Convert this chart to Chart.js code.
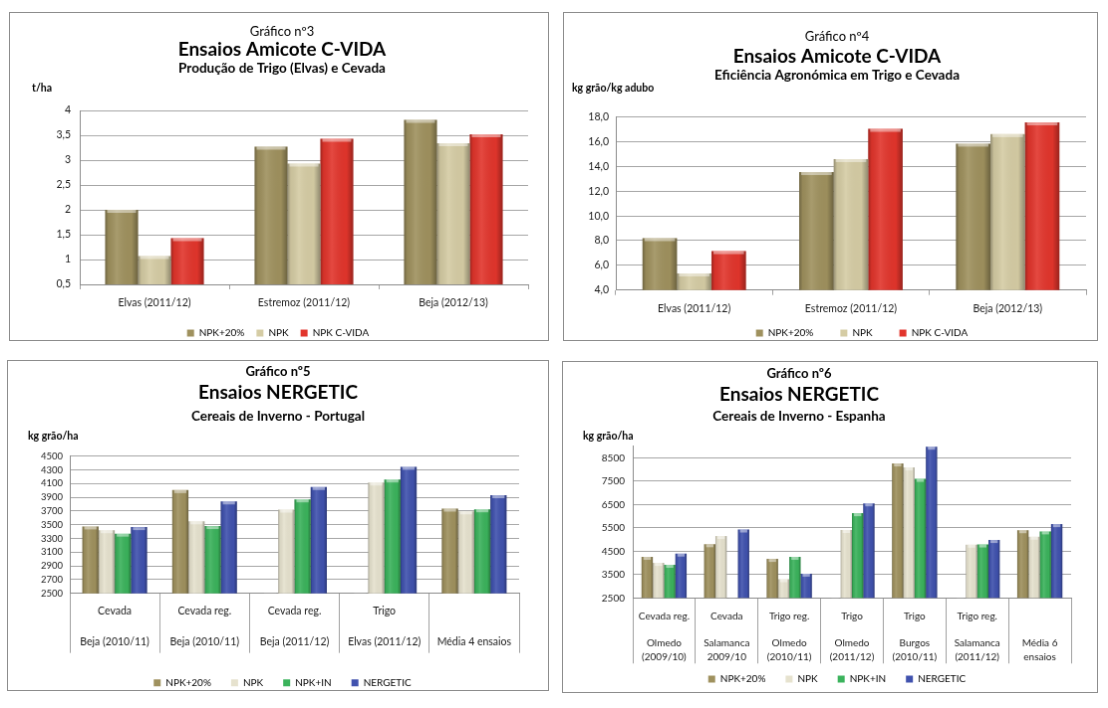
<!DOCTYPE html>
<html>
<head>
<meta charset="utf-8">
<script src="https://cdn.jsdelivr.net/npm/chart.js@4.4.0/dist/chart.umd.min.js"></script>
<style>
  body { margin: 0; background: #fff; width: 1108px; height: 708px; position: relative; overflow: hidden; }
  canvas { position: absolute; border: 1px solid #8c8c8c; background: #fff; }
</style>
</head>
<body>
<canvas id="c3" width="540" height="329" style="left:9px;top:12px"></canvas>
<canvas id="c4" width="535" height="329" style="left:563px;top:12px"></canvas>
<canvas id="c5" width="542" height="331" style="left:7px;top:360px"></canvas>
<canvas id="c6" width="536" height="332" style="left:562px;top:361px"></canvas>
<script>
// ---- data: gráfico 3 (t/ha)
const labels3 = ["Elvas (2011/12)", "Estremoz (2011/12)", "Beja (2012/13)"];
const npk20_3 = [2.0, 3.27, 3.81];
const npk_3 = [1.07, 2.93, 3.34];
const cvida_3 = [1.43, 3.43, 3.52];
const yticks3 = [0.5, 1, 1.5, 2, 2.5, 3, 3.5, 4];

// ---- data: gráfico 4 (kg grão/kg adubo)
const labels4 = ["Elvas (2011/12)", "Estremoz (2011/12)", "Beja (2012/13)"];
const npk20_4 = [8.2, 13.55, 15.85];
const npk_4 = [5.35, 14.6, 16.62];
const cvida_4 = [7.15, 17.05, 17.57];
const yticks4 = [4, 6, 8, 10, 12, 14, 16, 18];

// ---- data: gráfico 5 (kg grão/ha, Portugal)
const labels5 = [
  ["Cevada", "", "Beja (2010/11)"],
  ["Cevada reg.", "", "Beja (2010/11)"],
  ["Cevada reg.", "", "Beja (2011/12)"],
  ["Trigo", "", "Elvas (2011/12)"],
  ["", "", "Média 4 ensaios"]
];
const npk20_5 = [3475, 4005, null, null, 3735];
const npk_5 = [3420, 3550, 3720, 4115, 3695];
const npkin_5 = [3370, 3480, 3870, 4160, 3725];
const nerg_5 = [3465, 3840, 4050, 4345, 3930];
const yticks5 = [2500, 2700, 2900, 3100, 3300, 3500, 3700, 3900, 4100, 4300, 4500];

// ---- data: gráfico 6 (kg grão/ha, Espanha)
const labels6 = [
  ["Cevada reg.", "", "Olmedo", "(2009/10)"],
  ["Cevada", "", "Salamanca", "2009/10"],
  ["Trigo reg.", "", "Olmedo", "(2010/11)"],
  ["Trigo", "", "Olmedo", "(2011/12)"],
  ["Trigo", "", "Burgos", "(2010/11)"],
  ["Trigo reg.", "", "Salamanca", "(2011/12)"],
  ["", "", "Média 6", "ensaios"]
];
const npk20_6 = [4260, 4800, 4170, null, 8260, null, 5400];
const npk_6 = [4000, 5150, 3300, 5410, 8090, 4780, 5120];
const npkin_6 = [3920, null, 4260, 6130, 7600, 4790, 5350];
const nerg_6 = [4400, 5430, 3540, 6550, 8980, 4980, 5660];
const yticks6 = [2500, 3500, 4500, 5500, 6500, 7500, 8500];

const OLIVE = "#9f915e", BEIGE = "#d5cca4", CREAM = "#e6e2ce",
      RED = "#e2352c", GREEN = "#3bb35c", BLUE = "#4052ae";

const FONT = "Lato, 'Open Sans', sans-serif";
Chart.defaults.font.family = FONT;
Chart.defaults.color = "#1a1a1a";

// text lines above the plot (titles, unit label)
const headerPlugin = {
  id: "header",
  afterDraw(chart, args, opts) {
    const ctx = chart.ctx;
    ctx.save();
    ctx.fillStyle = "#000";
    ctx.textBaseline = "middle";
    (opts.lines || []).forEach(l => {
      ctx.font = l.font + " " + FONT;
      ctx.textAlign = l.align || "center";
      ctx.fillText(l.text, l.x, l.y);
    });
    ctx.restore();
  }
};

// move the legend a bit (excel places it off the middle)
const legendShift = {
  id: "legendShift",
  afterLayout(chart, args, opts) {
    const lg = chart.legend;
    if (!lg) return;
    lg.left += opts.dx || 0;
    lg.right += opts.dx || 0;
    lg.top += opts.dy || 0;
    lg.bottom += opts.dy || 0;
  }
};

// excel-like bevel on the bars
const bevelPlugin = {
  id: "bevel",
  afterDatasetsDraw(chart) {
    const ctx = chart.ctx, a = chart.chartArea;
    ctx.save();
    ctx.beginPath();
    ctx.rect(a.left, a.top, a.right - a.left, a.bottom - a.top);
    ctx.clip();
    chart.getSortedVisibleDatasetMetas().forEach(meta => {
      meta.data.forEach(bar => {
        const p = bar.getProps(["x", "y", "base", "width"], true);
        if (p.y == null || isNaN(p.y) || isNaN(p.base)) return;
        const left = p.x - p.width / 2, w = p.width;
        const top = Math.min(p.y, p.base), h = Math.abs(p.base - p.y);
        const g = ctx.createLinearGradient(left, 0, left + w, 0);
        g.addColorStop(0, "rgba(0,0,0,0.30)");
        g.addColorStop(0.1, "rgba(0,0,0,0.06)");
        g.addColorStop(0.35, "rgba(255,255,255,0.10)");
        g.addColorStop(0.8, "rgba(0,0,0,0.02)");
        g.addColorStop(1, "rgba(0,0,0,0.32)");
        ctx.fillStyle = g;
        ctx.fillRect(left, top, w, h);
        ctx.fillStyle = "rgba(255,255,255,0.45)";
        ctx.fillRect(left + 2, top, w - 4, 3);
      });
    });
    ctx.restore();
  }
};

function series(name, data, color) {
  return { label: name, data: data, backgroundColor: color, borderWidth: 0 };
}

function build(id, o) {
  return new Chart(document.getElementById(id), {
    type: "bar",
    data: {
      labels: o.labels,
      datasets: o.datasets.map(d => Object.assign(d, {
        categoryPercentage: o.catPct, barPercentage: 1.0
      }))
    },
    plugins: [bevelPlugin, headerPlugin, legendShift],
    options: {
      responsive: false,
      animation: false,
      layout: { padding: o.padding },
      plugins: {
        tooltip: { enabled: false },
        header: { lines: o.header },
        legendShift: { dx: o.legendDx, dy: o.legendDy },
        legend: {
          position: "bottom",
          labels: {
            boxWidth: 7, boxHeight: 7, padding: o.legendGap,
            font: { size: 10 }, color: "#000"
          }
        }
      },
      scales: {
        x: {
          grid: {
            display: true, drawOnChartArea: false, offset: true,
            tickLength: o.xTick, color: "#a0a0a0"
          },
          border: { color: "#8c8c8c" },
          ticks: {
            maxRotation: 0, autoSkip: false, padding: o.xPad,
            font: { size: o.xFont, lineHeight: o.xLine }, color: "#1a1a1a"
          },
          afterFit: s => { s.height = o.xHeight; }
        },
        y: {
          min: o.yMin, max: o.yMax,
          grid: { color: "#a6a6a6", drawTicks: false },
          border: { color: "#8c8c8c" },
          ticks: {
            autoSkip: false, padding: o.yPad,
            font: { size: o.yFont }, color: "#1a1a1a",
            callback: o.fmt
          },
          afterBuildTicks: s => { s.ticks = o.yTicks.map(v => ({ value: v })); },
          afterFit: s => { s.width = o.yWidth; }
        }
      }
    }
  });
}

const comma = d => v => v.toFixed(d).replace(".", ",");

build("c3", {
  labels: labels3,
  datasets: [series("NPK+20%", npk20_3, OLIVE), series("NPK", npk_3, BEIGE), series("NPK C-VIDA", cvida_3, RED)],
  catPct: 0.66,
  yMin: 0.5, yMax: 4, yTicks: yticks3, fmt: v => String(v).replace(".", ","),
  yWidth: 70, yPad: 9, yFont: 10.5,
  xTick: 5, xPad: 7, xFont: 10.5, xLine: 1.2, xHeight: 30,
  legendGap: 12, legendDx: 9, legendDy: 2,
  padding: { left: 0, right: 20, top: 98, bottom: -6 },
  header: [
    { text: "Gráfico nº3", font: "13px", x: 273, y: 19 },
    { text: "Ensaios Amicote C-VIDA", font: "bold 19px", x: 273, y: 37 },
    { text: "Produção de Trigo (Elvas) e Cevada", font: "bold 13.5px", x: 273, y: 56 },
    { text: "t/ha", font: "bold 10.5px", x: 22, y: 76, align: "left" }
  ]
});

build("c4", {
  labels: labels4,
  datasets: [series("NPK+20%", npk20_4, OLIVE), series("NPK", npk_4, BEIGE), series("NPK C-VIDA", cvida_4, RED)],
  catPct: 0.66,
  yMin: 4, yMax: 18, yTicks: yticks4, fmt: comma(1),
  yWidth: 52, yPad: 7, yFont: 10.5,
  xTick: 5, xPad: 7.5, xFont: 10.5, xLine: 1.2, xHeight: 26,
  legendGap: 27, legendDx: 37, legendDy: -14.7,
  padding: { left: 0, right: 11, top: 104.7, bottom: -22.7 },
  header: [
    { text: "Gráfico nº4", font: "13px", x: 274, y: 24 },
    { text: "Ensaios Amicote C-VIDA", font: "bold 19px", x: 274, y: 44 },
    { text: "Eficiência Agronómica em Trigo e Cevada", font: "bold 13.5px", x: 274, y: 63 },
    { text: "kg grão/kg adubo", font: "bold 10.5px", x: 8, y: 76, align: "left" }
  ]
});

build("c5", {
  labels: labels5,
  datasets: [series("NPK+20%", npk20_5, OLIVE), series("NPK", npk_5, CREAM),
             series("NPK+IN", npkin_5, GREEN), series("NERGETIC", nerg_5, BLUE)],
  catPct: 0.72,
  yMin: 2500, yMax: 4500, yTicks: yticks5, fmt: v => String(v),
  yWidth: 62, yPad: 7, yFont: 9.5,
  xTick: 60, xPad: -49.5, xFont: 10.5, xLine: 1.45, xHeight: 60,
  legendGap: 20, legendDx: 19, legendDy: 5,
  padding: { left: 0, right: 29, top: 95.7, bottom: -2.7 },
  header: [
    { text: "Gráfico nº5", font: "bold 13px", x: 271, y: 11 },
    { text: "Ensaios NERGETIC", font: "bold 19px", x: 271, y: 32 },
    { text: "Cereais de Inverno - Portugal", font: "bold 13.5px", x: 271, y: 56 },
    { text: "kg grão/ha", font: "bold 10.5px", x: 20, y: 76, align: "left" }
  ]
});

build("c6", {
  labels: labels6,
  datasets: [series("NPK+20%", npk20_6, OLIVE), series("NPK", npk_6, CREAM),
             series("NPK+IN", npkin_6, GREEN), series("NERGETIC", nerg_6, BLUE)],
  catPct: 0.72,
  yMin: 2500, yMax: 9000, yTicks: yticks6, fmt: v => String(v),
  yWidth: 70, yPad: 8, yFont: 10,
  xTick: 66, xPad: -54, xFont: 10, xLine: 1.35, xHeight: 66,
  legendGap: 20, legendDx: 20, legendDy: -9.3,
  padding: { left: 0, right: 26, top: 84.7, bottom: -11.3 },
  header: [
    { text: "Gráfico nº6", font: "bold 13px", x: 237, y: 12 },
    { text: "Ensaios NERGETIC", font: "bold 19px", x: 237, y: 33 },
    { text: "Cereais de Inverno - Espanha", font: "bold 13.5px", x: 237, y: 55 },
    { text: "kg grão/ha", font: "bold 10.5px", x: 20, y: 75, align: "left" }
  ]
});
</script>
</body>
</html>
